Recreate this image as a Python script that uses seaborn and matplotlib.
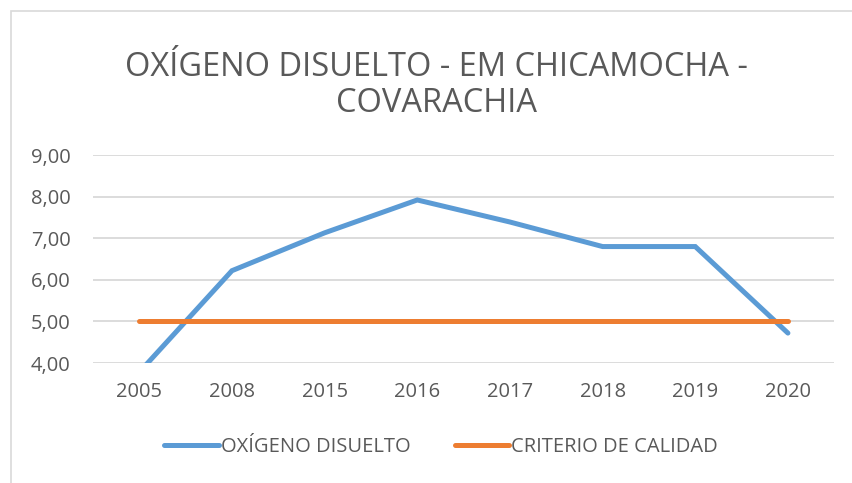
import matplotlib
matplotlib.use('Agg')
import matplotlib.pyplot as plt
import seaborn as sns
import pandas as pd
from matplotlib.patches import Rectangle
from matplotlib.ticker import FuncFormatter

# data
years = ['2005', '2008', '2015', '2016', '2017', '2018', '2019', '2020']
oxigeno = [3.78, 6.22, 7.13, 7.92, 7.39, 6.80, 6.80, 4.72]
criterio = [5.0, 5.0, 5.0, 5.0, 5.0, 5.0, 5.0, 5.0]

df = pd.DataFrame({'year': years, 'OXÍGENO DISUELTO': oxigeno, 'CRITERIO DE CALIDAD': criterio})
df_melted = df.melt(id_vars='year', var_name='serie', value_name='valor')

sns.set_style('white')
plt.rcParams['font.family'] = ['Open Sans', 'DejaVu Sans']
text_color = '#595959'
lw = 3.6

fig = plt.figure(figsize=(8.53, 4.83), dpi=100)
ax = fig.add_axes([0.109, 0.2484, 0.869, 0.4306])

sns.lineplot(data=df_melted, x='year', y='valor', hue='serie', sort=False,
             palette=['#5B9BD5', '#ED7D31'], linewidth=lw, ax=ax, legend=False)
for line in ax.lines:
    line.set_solid_capstyle('round')
    line.set_solid_joinstyle('miter')

ax.set_xlim(-0.5, len(years) - 0.5)
ax.set_ylim(4, 9)
ax.set_yticks([4, 5, 6, 7, 8, 9])
ax.yaxis.set_major_formatter(FuncFormatter(lambda v, p: f'{v:.2f}'.replace('.', ',')))
ax.grid(axis='y', color='#D9D9D9', linewidth=1.3)
ax.set_axisbelow(True)
for s in ax.spines.values():
    s.set_visible(False)
ax.tick_params(axis='both', length=0, labelsize=14.5, colors=text_color)
ax.tick_params(axis='x', pad=14)
ax.tick_params(axis='y', pad=16)
ax.set_xlabel('')
ax.set_ylabel('')

fig.text(0.512, 0.822, 'OXÍGENO DISUELTO - EM CHICAMOCHA -\nCOVARACHIA', ha='center', va='center',
         fontsize=23.5, color=text_color, linespacing=1.12)

# legend drawn like excel's
handles = [plt.Line2D([], [], color=c, linewidth=lw, solid_capstyle='round') for c in ['#5B9BD5', '#ED7D31']]
fig.legend(handles, ['OXÍGENO DISUELTO', 'CRITERIO DE CALIDAD'], loc='center', bbox_to_anchor=(0.517, 0.075),
           ncol=2, frameon=False, fontsize=14.5, labelcolor=text_color, handlelength=2.7, handletextpad=0.1,
           columnspacing=2.2)

fig.patches.append(Rectangle((11 / 853, -0.1), 1.2, 1 - 11 / 483 + 0.1, transform=fig.transFigure,
                             fill=False, edgecolor='#D9D9D9', linewidth=1.2))

fig.savefig('out.png', dpi=100)
